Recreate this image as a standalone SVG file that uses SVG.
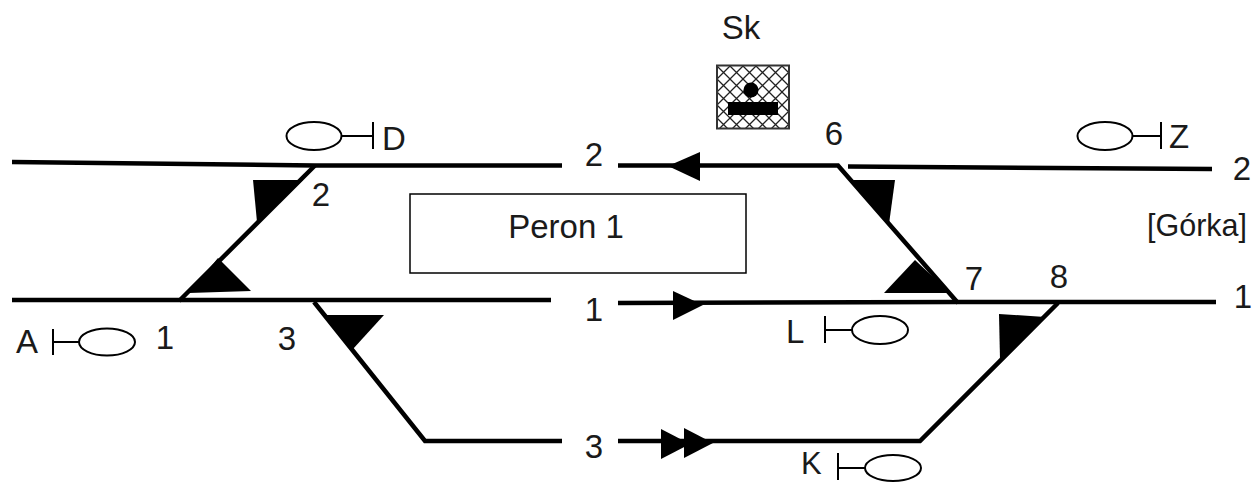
<svg xmlns="http://www.w3.org/2000/svg" width="1259" height="482" viewBox="0 0 1259 482">
<style>
text{font-family:"Liberation Sans",Arial,sans-serif;font-size:33px;fill:#1a1a1a}
.t{fill:none;stroke:#000;stroke-width:4.5;stroke-linejoin:miter}
.h{fill:#000;stroke:none}
.s{fill:#fff;stroke:#000;stroke-width:2}
.sl{fill:none;stroke:#000;stroke-width:2}
.c{text-anchor:middle}
</style>
<defs>
<pattern id="hatch" width="13" height="13" patternUnits="userSpaceOnUse" x="717" y="66">
<path d="M0 0L13 13M13 0L0 13" stroke="#222" stroke-width="1.3" fill="none"/>
</pattern>
</defs>
<rect width="1259" height="482" fill="#fff"/>
<g id="connectors">
<path class="t" d="M12 162L315 165.500H562"/>
<path class="t" d="M618 165.500H838L958 303"/>
<path class="t" d="M848 166.500L1212 169"/>
<path class="t" d="M315 165.500L179 301"/>
<path class="t" d="M12 300H551"/>
<path class="t" d="M618 303L958 302H1216"/>
<path class="t" d="M314 302L425 441H562"/>
<path class="t" d="M618 441L920 441L1058 303"/>
<path class="h" d="M253 180H303L257 222Z"/>
<path class="h" d="M218 258L251 291L189 293Z"/>
<path class="h" d="M326 315H384L353 349Z"/>
<path class="h" d="M851 180H895L889 224Z"/>
<path class="h" d="M915 260L950 293H884Z"/>
<path class="h" d="M999 314L1045 317L1000 360Z"/>
<path class="h" d="M700 152V181L668 166Z"/>
<path class="h" d="M673 291V320L703 305Z"/>
<path class="h" d="M661 429V459L690 444Z"/>
<path class="h" d="M684 428V458L713 443Z"/>
</g>
<g id="platform"><rect x="410" y="194" width="336" height="79" fill="#fff" stroke="#000" stroke-width="1.500"/><text class="c" x="566" y="238">Peron 1</text></g>
<g id="sk"><text class="c" x="741" y="39">Sk</text>
<rect x="717" y="65.500" width="72" height="63" fill="#fff"/><rect x="717" y="65.500" width="72" height="63" fill="url(#hatch)" stroke="#333" stroke-width="2"/>
<circle cx="751" cy="90" r="7.500"/><rect x="728" y="102" width="50" height="13"/></g>
<g id="signal-d"><ellipse class="s" cx="314" cy="136" rx="27.500" ry="14"/><path class="sl" d="M341 136H373M373 122V149"/><text x="382" y="150">D</text></g>
<g id="signal-z"><ellipse class="s" cx="1105" cy="136" rx="27.500" ry="14"/><path class="sl" d="M1132 136H1161M1161 122V149"/><text x="1169" y="148">Z</text></g>
<g id="signal-a"><text x="16" y="353">A</text><path class="sl" d="M53 329V355M53 342H80"/><ellipse class="s" cx="107" cy="342" rx="28" ry="13.500"/></g>
<g id="signal-l"><text x="786" y="343">L</text><path class="sl" d="M825 316V343M825 330H853"/><ellipse class="s" cx="880" cy="330" rx="28" ry="14"/></g>
<g id="signal-k"><text x="801" y="474" style="font-size:31px">K</text><path class="sl" d="M838 453V480M838 468H865"/><ellipse class="s" cx="893" cy="468" rx="28" ry="13"/></g>
<g id="labels">
<text class="c" x="594" y="166">2</text><text class="c" x="594" y="321">1</text><text class="c" x="594" y="458">3</text>
<text class="c" x="834" y="145">6</text><text class="c" x="321" y="206">2</text><text class="c" x="165" y="349">1</text><text class="c" x="287" y="350">3</text>
<text class="c" x="974" y="290">7</text><text class="c" x="1059" y="288">8</text>
<text class="c" x="1242" y="180">2</text><text class="c" x="1243" y="308">1</text>
<text x="1147" y="236" style="font-size:30.500px">[Górka]</text>
</g>
</svg>
